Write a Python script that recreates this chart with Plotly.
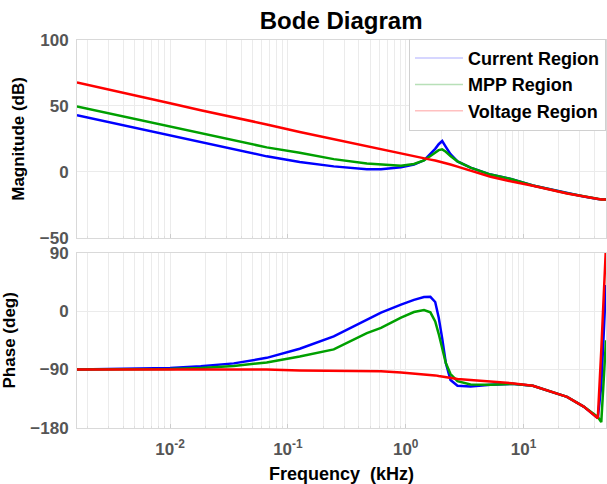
import plotly.graph_objects as go

# frequency grid (kHz)
freq_khz = [0.00162, 0.00316, 0.00631, 0.01, 0.0182, 0.0347, 0.0661, 0.126,
            0.245, 0.468, 0.617, 0.912, 1.175, 1.43, 1.62, 1.78, 1.905, 2.04,
            2.19, 2.40, 2.75, 3.55, 5.25, 7.94, 12.0, 23.4, 32.4, 42.7, 45.7, 50.1]

# magnitude (dB)
mag_current = [43.0, 37.4, 31.6, 27.8, 22.7, 17.2, 11.8, 7.5, 4.2, 2.0, 2.1, 3.5,
               5.6, 8.8, 13.5, 17.5, 21.0, 23.4, 19.0, 13.5, 8.0, 3.3, -2.0, -5.5,
               -10.3, -16.1, -18.7, -20.6, -20.9, -21.0]
mag_mpp = [49.7, 44.0, 38.2, 34.3, 29.3, 23.8, 18.6, 14.6, 9.7, 6.3, 5.4, 4.6,
           6.0, 8.8, 12.0, 14.8, 16.5, 17.1, 15.3, 12.0, 8.0, 3.3, -2.0, -5.5,
           -10.3, -16.1, -18.7, -20.6, -20.9, -21.0]
mag_voltage = [67.8, 62.2, 56.2, 52.0, 46.7, 41.6, 36.0, 30.3, 24.7, 19.3, 17.1, 14.0,
               12.0, 10.2, 9.3, 8.6, 8.0, 7.4, 6.7, 5.6, 4.0, 1.0, -3.6, -7.3,
               -10.5, -16.3, -18.8, -20.6, -20.9, -21.0]

# phase (deg)
ph_current = [-90, -89.5, -88.5, -87.5, -85, -80.5, -72, -58, -39, -14, -2.3, 10,
              17.2, 21.5, 22, 14, -10, -42, -80, -106, -115, -116, -113.5, -112,
              -115, -132, -147, -164.5, -115, 40]
ph_mpp = [-90, -90, -89.5, -89, -87.5, -84.5, -79, -70, -59, -34, -26, -10,
          -1.5, 1.5, -2, -16, -35, -58, -80, -97, -108, -113, -113.5, -112,
          -115, -132, -147, -163, -171, -45]
ph_voltage = [-90, -90, -90, -90, -90, -90, -90, -91.5, -91.5, -91.5, -92.5, -94.5,
              -96, -97, -98, -99, -100, -101, -102, -103, -104.5, -106, -108.5, -111,
              -115, -132, -147, -165, -60, 100]

x_tickvals = [0.01, 0.1, 1, 10]
x_ticktext = ["10<sup>-2</sup>", "10<sup>-1</sup>", "10<sup>0</sup>", "10<sup>1</sup>"]

names = ["Current Region", "MPP Region", "Voltage Region"]
colors = ["#0000ff", "#00a000", "#ff0000"]
pale = ["#c8c8ff", "#b8e0b8", "#ffc0c0"]
mags = [mag_current, mag_mpp, mag_voltage]
phases = [ph_current, ph_mpp, ph_voltage]

FONT = "Liberation Sans, Arial, sans-serif"
GRID = "#ebebeb"
LINE = "#d9d9d9"

fig = go.Figure()

for name, col, m, p in zip(names, colors, mags, phases):
    fig.add_trace(go.Scatter(x=freq_khz, y=m, mode="lines", line=dict(color=col, width=2.5),
                             showlegend=False, xaxis="x", yaxis="y"))
    fig.add_trace(go.Scatter(x=freq_khz, y=p, mode="lines", line=dict(color=col, width=2.5),
                             showlegend=False, xaxis="x2", yaxis="y2"))

# legend entries (thin pale samples like the original)
for name, col in zip(names, pale):
    fig.add_trace(go.Scatter(x=[None], y=[None], mode="lines", name=name,
                             line=dict(color=col, width=1.5), xaxis="x", yaxis="y"))

tickfont = dict(family=FONT, size=17, color="#555555", weight="bold")
titlefont = dict(family=FONT, size=17, color="black", weight="bold")

xcommon = dict(type="log", range=[-2.79, 1.7], tickvals=x_tickvals, ticktext=x_ticktext,
               showgrid=True, gridcolor=GRID, zeroline=False, automargin=False,
               showline=True, linecolor=LINE, mirror=True,
               ticks="inside", ticklen=4, tickcolor="#cccccc",
               minor=dict(dtick="D1", showgrid=True, gridcolor=GRID,
                          ticks="inside", ticklen=2, tickcolor="#dddddd"),
               tickfont=tickfont, ticklabelstandoff=6)

ycommon = dict(showgrid=True, gridcolor=GRID, zeroline=False, automargin=False,
               showline=True, linecolor=LINE, mirror=True,
               tickfont=tickfont, ticklabelstandoff=4)

fig.update_layout(
    width=607, height=484,
    margin=dict(l=77, r=1, t=40, b=56, autoexpand=False),
    paper_bgcolor="white", plot_bgcolor="white",
    title=dict(text="Bode Diagram", x=0.562, xanchor="center", y=0.958, yanchor="middle",
               font=dict(family=FONT, size=24, color="black", weight="bold")),
    xaxis=dict(xcommon, domain=[0, 1], anchor="y", showticklabels=False, matches="x2"),
    yaxis=dict(ycommon, domain=[0.49, 1], range=[-50, 100], dtick=50,
               title=dict(text="Magnitude (dB)", font=titlefont, standoff=10)),
    xaxis2=dict(xcommon, domain=[0, 1], anchor="y2",
                title=dict(text="Frequency  (kHz)", font=dict(titlefont, size=18), standoff=12)),
    yaxis2=dict(ycommon, domain=[0, 0.452], range=[-180, 90], dtick=90,
                title=dict(text="Phase (deg)", font=titlefont, standoff=10)),
    legend=dict(x=1, xanchor="right", y=1.003, yanchor="top",
                bgcolor="white", bordercolor="#d0d0d0", borderwidth=1,
                font=dict(family=FONT, size=18, color="black", weight="bold"),
                itemwidth=48, tracegroupgap=0),
)

# page body has an 8px default margin; drop it so the figure sits at the window corner
fig.write_html("out.html", config={"displayModeBar": False},
               post_script="document.body.style.margin='0';")
